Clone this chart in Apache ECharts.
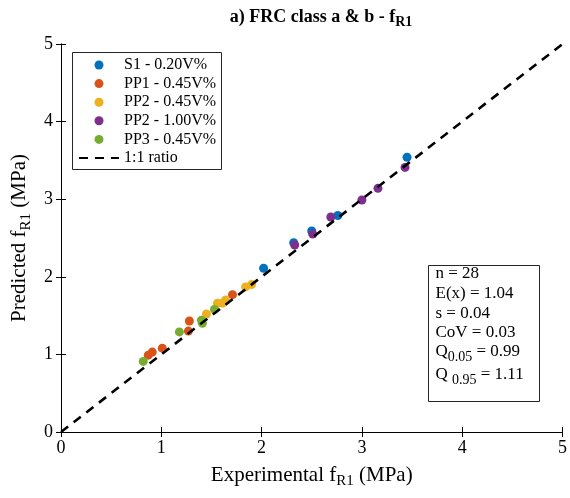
<!DOCTYPE html>
<html>
<head>
<meta charset="utf-8">
<script src="https://cdn.jsdelivr.net/npm/echarts@6/dist/echarts.min.js"></script>
<style>
  html, body { margin: 0; padding: 0; background: #fff; }
  #chart { width: 570px; height: 498px; }
</style>
</head>
<body>
<div id="chart"></div>
<script>
// Experimental vs predicted residual strength f_R1 (MPa)
const seriesNames = ['S1 - 0.20V%', 'PP1 - 0.45V%', 'PP2 - 0.45V%', 'PP2 - 1.00V%', 'PP3 - 0.45V%'];
const seriesColors = ['#0072BD', '#D95319', '#EDB120', '#7E2F8E', '#77AC30'];

const s1X = [2.02, 2.32, 2.50, 2.76, 3.45];
const s1Y = [2.11, 2.44, 2.59, 2.79, 3.54];
const pp1a045X = [0.87, 0.91, 1.01, 1.27, 1.28, 1.71];
const pp1a045Y = [0.99, 1.03, 1.08, 1.30, 1.43, 1.77];
const pp2a045X = [1.45, 1.56, 1.61, 1.64, 1.84, 1.90];
const pp2a045Y = [1.52, 1.66, 1.66, 1.70, 1.87, 1.90];
const pp2a100X = [2.33, 2.51, 2.69, 3.00, 3.16, 3.43];
const pp2a100Y = [2.41, 2.55, 2.77, 2.99, 3.14, 3.41];
const pp3a045X = [0.82, 1.18, 1.40, 1.41, 1.53];
const pp3a045Y = [0.91, 1.29, 1.44, 1.40, 1.58];

const ratioX = [0, 5];
const ratioY = [0, 5];

const statLines = [
  'n = 28',
  'E(x) = 1.04',
  's = 0.04',
  'CoV = 0.03',
  'Q{sub|0.05} = 0.99',
  'Q {sub|0.95} = 1.11'
];
// vertical offset of each statistics line inside the box (px)
const statOffsets = [0, 19.6, 39.2, 58.8, 74, 97];

const xs = [s1X, pp1a045X, pp2a045X, pp2a100X, pp3a045X];
const ys = [s1Y, pp1a045Y, pp2a045Y, pp2a100Y, pp3a045Y];

const FONT = 'Liberation Serif';
const pair = (a, b) => a.map((v, i) => [v, b[i]]);

const scatterSeries = seriesNames.map((name, k) => ({
  name: name,
  type: 'scatter',
  symbol: 'circle',
  symbolSize: 9,
  itemStyle: { color: seriesColors[k], opacity: 1 },
  data: pair(xs[k], ys[k]),
  z: 2
}));

const lineSeries = {
  name: '1:1 ratio',
  type: 'line',
  symbol: 'none',
  data: pair(ratioX, ratioY),
  lineStyle: { color: '#000', width: 2.6, type: [9, 7] },
  itemStyle: { color: '#000' },
  z: 3,
  silent: true
};

const axisCommon = {
  min: 0, max: 5, interval: 1,
  axisLine: { show: true, lineStyle: { color: '#000', width: 1 } },
  axisTick: { show: true, inside: true, length: 5, lineStyle: { color: '#000' } },
  splitLine: { show: false }
};

const nameRich = {
  n: { fontFamily: FONT, fontSize: 21, color: '#000' },
  s: { fontFamily: FONT, fontSize: 15, color: '#000', padding: [12, 0, 0, 0] }
};

const chart = echarts.init(document.getElementById('chart'), null, { renderer: 'canvas' });
chart.setOption({
  animation: false,
  backgroundColor: '#fff',
  title: {
    text: '{b|a) FRC class a & b - f}{s|R1}',
    left: 316, top: 0, textAlign: 'center',
    textStyle: {
      rich: {
        b: { fontFamily: FONT, fontSize: 18, fontWeight: 'bold', color: '#000' },
        s: { fontFamily: FONT, fontSize: 14, fontWeight: 'bold', color: '#000', padding: [10, 0, 0, 0] }
      }
    }
  },
  grid: { left: 61, top: 44, right: 4, bottom: 66 },
  xAxis: [
    Object.assign({}, axisCommon, {
      type: 'value', position: 'bottom',
      axisLabel: { fontFamily: FONT, fontSize: 18, color: '#000', margin: 7 },
      name: '{n|Experimental f}{s|R1}{n| (MPa)}',
      nameLocation: 'middle', nameGap: 30,
      nameTextStyle: { rich: nameRich }
    }),
    Object.assign({}, axisCommon, {
      type: 'value', position: 'top',
      axisLabel: { show: false }
    })
  ],
  yAxis: [
    Object.assign({}, axisCommon, {
      type: 'value', position: 'left',
      axisLabel: { fontFamily: FONT, fontSize: 18, color: '#000', margin: 8 },
      name: '{n|Predicted f}{s|R1}{n| (MPa)}',
      nameLocation: 'middle', nameGap: 23,
      nameTextStyle: { rich: nameRich }
    }),
    Object.assign({}, axisCommon, {
      type: 'value', position: 'right',
      axisLabel: { show: false }
    })
  ],
  legend: {
    orient: 'vertical',
    left: 78, top: 57, padding: 0,
    itemWidth: 40, itemHeight: 9, itemGap: 2.6,
    data: seriesNames.map(n => ({ name: n, icon: 'circle' }))
      .concat([{ name: '1:1 ratio', itemStyle: { opacity: 0 } }]),
    textStyle: { fontFamily: FONT, fontSize: 16, color: '#000' },
    selectedMode: false
  },
  graphic: [
    {
      type: 'rect', left: 72, top: 52, z: 0,
      shape: { width: 149, height: 117 },
      style: { fill: '#fff', stroke: '#262626', lineWidth: 1 }
    },
    {
      type: 'group', left: 428, top: 265, z: 10,
      children: [
        {
          type: 'rect',
          shape: { x: 0, y: 0, width: 111, height: 136 },
          style: { fill: '#fff', stroke: '#262626', lineWidth: 1 }
        }
      ].concat(statLines.map((t, i) => ({
        type: 'text',
        x: 7, y: statOffsets[i],
        style: {
          text: t,
          fontFamily: FONT, fontSize: 17, fill: '#000',
          rich: {
            sub: { fontFamily: FONT, fontSize: 14, fill: '#000', padding: [11, 0, 0, 0] }
          }
        }
      })))
    }
  ],
  series: scatterSeries.concat([lineSeries])
});
</script>
</body>
</html>
